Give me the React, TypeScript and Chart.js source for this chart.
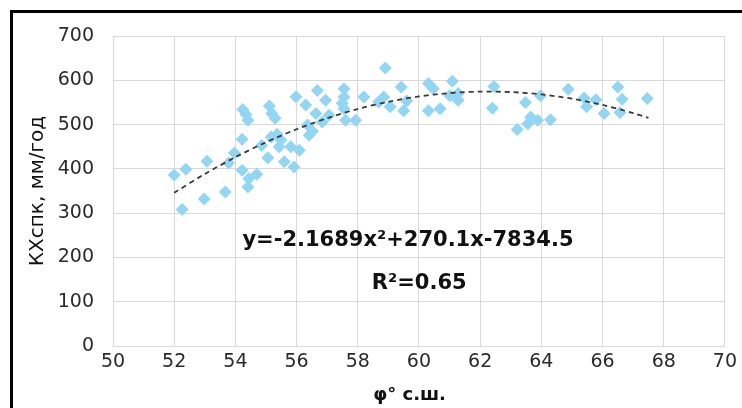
import { useEffect, useRef } from "react";
import { Chart, registerables } from "chart.js";

Chart.register(...registerables);

// Observed points: latitude (°N) and runoff (mm/year)
const latitude = [
  52.0, 52.38, 52.26, 53.07, 52.98, 53.67, 53.78, 53.97, 54.22, 54.22,
  54.44, 54.7, 54.41, 54.24, 54.35, 54.41, 54.86, 55.06, 55.11, 55.19,
  55.3, 55.17, 55.36, 55.49, 55.43, 55.6, 55.92, 55.81, 56.09, 55.98,
  56.36, 56.41, 56.52, 56.3, 56.68, 56.63, 56.95, 56.84, 57.06, 57.55,
  57.55, 57.49, 57.55, 57.6, 57.93, 58.2, 58.9, 58.85, 58.68, 59.06,
  59.42, 59.5, 59.6, 60.31, 60.47, 60.31, 60.69, 61.09, 61.01, 61.28,
  61.28, 62.45, 62.4, 63.21, 63.48, 63.65, 63.56, 63.88, 63.97, 64.3,
  64.88, 65.4, 65.48, 65.78, 66.05, 66.5, 66.64, 66.57, 67.46,
];
const runoff = [
  386, 399, 308, 417, 332, 348, 413, 436, 467, 397,
  378, 388, 359, 534, 523, 510, 453, 425, 542, 525,
  514, 472, 478, 465, 450, 416, 404, 450, 442, 563,
  499, 476, 485, 544, 577, 525, 555, 506, 521, 581,
  562, 548, 536, 510, 510, 562, 628, 562, 551, 540,
  585, 531, 553, 593, 581, 531, 536, 598, 565, 570,
  555, 586, 537, 489, 550, 517, 502, 510, 565, 511,
  580, 560, 540, 556, 525, 585, 557, 527, 559,
];

// Polynomial trend line values
const trendX = [52, 53, 54, 55, 56, 57, 58, 59, 60, 61, 62, 63, 64, 65, 66, 67, 67.5];
const trendY = [346.0, 388.4, 426.4, 460.1, 489.4, 514.4, 535.1, 551.5, 563.5, 571.1, 574.4, 573.4, 568.1, 558.4, 544.4, 526.0, 515.2];

const equationText = "y=-2.1689x²+270.1x-7834.5";
const r2Text = "R²=0.65";
const xTitle = "φ° с.ш.   ";
const yTitle = "КХспк, мм/год";

export default function App() {
  const ref = useRef<HTMLCanvasElement>(null);

  useEffect(() => {
    const canvas = ref.current;
    if (!canvas) return;

    const textPlugin = {
      id: "equationText",
      afterDatasetsDraw(chart: any) {
        const { ctx, scales } = chart;
        const xs = scales.x;
        const ys = scales.y;
        ctx.save();
        ctx.font = 'bold 21px "DejaVu Sans"';
        ctx.fillStyle = "#111";
        ctx.textAlign = "left";
        ctx.textBaseline = "alphabetic";
        ctx.fillText(equationText, xs.getPixelForValue(54.23), ys.getPixelForValue(225));
        ctx.fillText(r2Text, xs.getPixelForValue(58.46), ys.getPixelForValue(128.5));
        ctx.restore();
      },
    };

    const points = latitude.map((v, i) => ({ x: v, y: runoff[i] }));
    const trend = trendX.map((v, i) => ({ x: v, y: trendY[i] }));

    const tickFont = { family: '"DejaVu Sans"', size: 19 };
    const gridColor = "#D9D9D9";

    const chart = new Chart(canvas, {
      type: "scatter",
      data: {
        datasets: [
          {
            type: "line",
            data: trend,
            borderColor: "#3a3a3a",
            borderWidth: 1.8,
            borderDash: [5, 4],
            pointRadius: 0,
            tension: 0.3,
            fill: false,
            order: 0,
          } as any,
          {
            data: points,
            pointStyle: "rectRot",
            pointRadius: 6.5,
            backgroundColor: "#93D6F4",
            borderWidth: 0,
            order: 1,
          },
        ],
      },
      options: {
        responsive: false,
        animation: false,
        layout: { padding: { top: 36, right: 14, left: 0, bottom: 0 } },
        plugins: { legend: { display: false }, tooltip: { enabled: false } },
        scales: {
          x: {
            type: "linear",
            min: 50,
            max: 70,
            afterFit: (s: any) => {
              s.height = 62;
            },
            ticks: { stepSize: 2, font: tickFont, color: "#2a2a2a", padding: 5 },
            grid: { color: gridColor, drawTicks: false },
            border: { color: gridColor },
            title: {
              display: true,
              text: xTitle,
              font: { family: '"DejaVu Sans"', size: 18, weight: "bold" },
              color: "#111",
              padding: { top: 0, bottom: 2 },
            },
          },
          y: {
            type: "linear",
            min: 0,
            max: 700,
            afterFit: (s: any) => {
              s.width = 113;
            },
            ticks: { stepSize: 100, font: tickFont, color: "#2a2a2a", padding: 19 },
            grid: { color: gridColor, drawTicks: false },
            border: { color: gridColor },
            title: {
              display: true,
              text: yTitle,
              font: { family: '"DejaVu Sans"', size: 20 },
              color: "#111",
              padding: { top: 26, bottom: 0 },
            },
          },
        },
      },
      plugins: [textPlugin],
    });

    return () => chart.destroy();
  }, []);

  return (
    <div
      style={{
        position: "fixed",
        left: 0,
        top: 0,
        width: 742,
        height: 408,
        background: "#fff",
        overflow: "hidden",
      }}
    >
      <div
        style={{
          position: "absolute",
          left: 10,
          top: 10,
          width: 800,
          height: 500,
          border: "3px solid #000",
          boxSizing: "border-box",
        }}
      />
      <canvas
        ref={ref}
        width={742}
        height={408}
        style={{ position: "absolute", left: 0, top: 0, display: "block" }}
      />
    </div>
  );
}
